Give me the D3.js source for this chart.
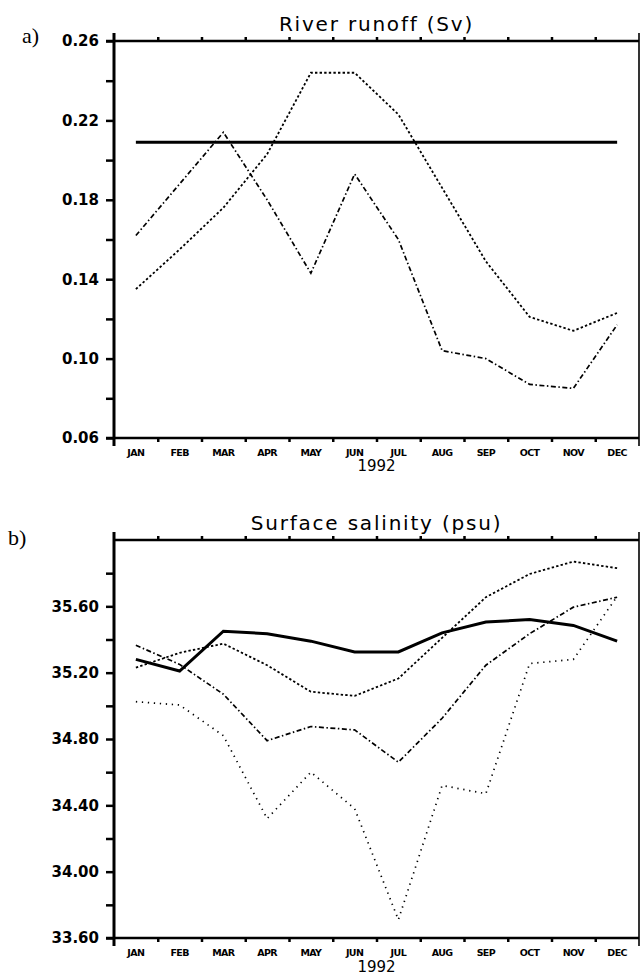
<!DOCTYPE html>
<html>
<head>
<meta charset="utf-8">
<script src="https://cdn.jsdelivr.net/npm/d3@7"></script>
<style>
  body { margin: 0; background: #fff; }
  svg { display: block; }
  .ylab { font-family: "DejaVu Sans", sans-serif; font-weight: bold; font-size: 15px; }
  .mlab { font-family: "DejaVu Sans", sans-serif; font-weight: bold; font-size: 9.5px; letter-spacing: -0.6px; }
  .title { font-family: "DejaVu Sans", sans-serif; font-size: 20px; letter-spacing: 1.8px; }
  .year { font-family: "DejaVu Sans", sans-serif; font-size: 15px; }
  .plab { font-family: "Liberation Serif", "Times New Roman", serif; font-size: 22px; }
</style>
</head>
<body>
<svg width="640" height="975"></svg>
<script>
// month names along the x axis
var months = ['JAN','FEB','MAR','APR','MAY','JUN','JUL','AUG','SEP','OCT','NOV','DEC'];
var yearLabel = '1992';

// panel a) river runoff (Sv)
var runoffSolid   = [0.209, 0.209, 0.209, 0.209, 0.209, 0.209, 0.209, 0.209, 0.209, 0.209, 0.209, 0.209];
var runoffDashed  = [0.135, 0.155, 0.176, 0.203, 0.244, 0.244, 0.223, 0.186, 0.149, 0.121, 0.114, 0.123];
var runoffDashDot = [0.162, 0.188, 0.214, 0.180, 0.143, 0.193, 0.160, 0.104, 0.100, 0.087, 0.085, 0.117];
var runoffTicks   = [0.06, 0.10, 0.14, 0.18, 0.22, 0.26];
var runoffMinor   = [0.08, 0.12, 0.16, 0.20, 0.24];

// panel b) surface salinity (psu)
var salSolid   = [35.28, 35.21, 35.45, 35.435, 35.39, 35.325, 35.325, 35.44, 35.505, 35.52, 35.485, 35.39];
var salDashed  = [35.23, 35.32, 35.375, 35.245, 35.085, 35.06, 35.165, 35.41, 35.655, 35.795, 35.87, 35.83];
var salDashDot = [35.365, 35.25, 35.07, 34.79, 34.875, 34.855, 34.66, 34.925, 35.245, 35.435, 35.595, 35.655];
var salDotted  = [35.025, 35.005, 34.82, 34.32, 34.60, 34.38, 33.71, 34.52, 34.47, 35.255, 35.28, 35.66];
var salTicks   = [33.6, 34.0, 34.4, 34.8, 35.2, 35.6];
var salMinor   = [33.8, 34.2, 34.6, 35.0, 35.4, 35.8];

var svg = d3.select('svg');

// line styles : solid thick, short dashes, dash-dot, sparse dots
var styles = {
  solid:   { w: 3,   dash: null },
  dashed:  { w: 1.8, dash: '2.4,2.2' },
  dashdot: { w: 1.7, dash: '5,2.5,1.5,2.5' },
  dotted:  { w: 1.7, dash: '1.3,4.7' }
};

function panel ( opt )
{
  var left = 114, right = 639, top = opt.top, bottom = opt.bottom;

  // month index scale: 0..12 covers the box, month i is centered at i+0.5
  var xi = d3.scaleLinear().domain([0, 12]).range([left, right]);
  var y  = d3.scaleLinear().domain(opt.domain).range([bottom, top]);

  var g = svg.append('g');

  // left axis, major labelled ticks
  var yAxis = d3.axisLeft(y)
      .tickValues(opt.ticks)
      .tickSize(8)
      .tickPadding(7)
      .tickFormat(opt.fmt);
  var ya = g.append('g').attr('transform', `translate(${left},0)`).call(yAxis);
  ya.select('.domain').remove();
  ya.selectAll('line').attr('stroke-width', 2.5);
  ya.selectAll('text').attr('class', 'ylab').attr('fill', '#000').attr('font-family', null).attr('font-size', null);

  // left axis, minor ticks
  var ym = g.append('g').attr('transform', `translate(${left},0)`)
      .call(d3.axisLeft(y).tickValues(opt.minor).tickSize(8).tickFormat(''));
  ym.select('.domain').remove();
  ym.selectAll('line').attr('stroke-width', 2.5);

  // month boundary ticks, bottom (out) and top (out)
  var bounds = d3.range(1, 12);
  var xb = g.append('g').attr('transform', `translate(0,${bottom})`)
      .call(d3.axisBottom(xi).tickValues(bounds).tickSize(4).tickFormat(''));
  xb.select('.domain').remove();
  xb.selectAll('line').attr('stroke-width', 2.5);
  var xt = g.append('g').attr('transform', `translate(0,${top})`)
      .call(d3.axisTop(xi).tickValues(bounds).tickSize(4).tickFormat(''));
  xt.select('.domain').remove();
  xt.selectAll('line').attr('stroke-width', 2.5);

  // frame
  g.append('line').attr('x1', left).attr('x2', left).attr('y1', top - 8).attr('y2', bottom + 8)
      .attr('stroke', '#000').attr('stroke-width', 3);
  g.append('line').attr('x1', left - (opt.topTick ? 8 : 0)).attr('x2', right).attr('y1', top).attr('y2', top)
      .attr('stroke', '#000').attr('stroke-width', 2.7);
  g.append('line').attr('x1', left - 8).attr('x2', right).attr('y1', bottom).attr('y2', bottom)
      .attr('stroke', '#000').attr('stroke-width', 2.7);
  g.append('line').attr('x1', right).attr('x2', right).attr('y1', top - 8).attr('y2', bottom + 8)
      .attr('stroke', '#000').attr('stroke-width', 1.6);

  // month labels
  g.selectAll('.mlab').data(months).enter().append('text')
      .attr('class', 'mlab')
      .attr('x', function (d, i) { return xi(i + 0.5); })
      .attr('y', bottom + 18)
      .attr('text-anchor', 'middle')
      .text(function (d) { return d; });

  g.append('text').attr('class', 'year')
      .attr('x', (left + right) / 2).attr('y', bottom + opt.yearDy)
      .attr('text-anchor', 'middle').text(yearLabel);

  g.append('text').attr('class', 'title')
      .attr('x', (left + right) / 2).attr('y', top + opt.titleDy)
      .attr('text-anchor', 'middle').text(opt.title);

  g.append('text').attr('class', 'plab')
      .attr('x', opt.labX).attr('y', opt.labY).text(opt.label);

  var line = d3.line()
      .x(function (d, i) { return xi(i + 0.5); })
      .y(function (d) { return y(d); });

  opt.series.forEach(function (s) {
    var st = styles[s.style];
    g.append('path')
      .attr('d', line(s.values))
      .attr('fill', 'none')
      .attr('stroke', '#000')
      .attr('stroke-width', st.w)
      .attr('stroke-linejoin', 'miter')
      .attr('stroke-dasharray', st.dash);
  });
}

panel({
  top: 41, bottom: 438,
  domain: [0.06, 0.26],
  ticks: runoffTicks, minor: runoffMinor, topTick: true,
  fmt: d3.format('.2f'),
  title: 'River runoff (Sv)', titleDy: -10,
  yearDy: 33,
  label: 'a)', labX: 22, labY: 43,
  series: [
    { values: runoffSolid,   style: 'solid' },
    { values: runoffDashed,  style: 'dashed' },
    { values: runoffDashDot, style: 'dashdot' }
  ]
});

panel({
  top: 540, bottom: 938,
  domain: [33.6, 36.0],
  ticks: salTicks, minor: salMinor, topTick: false,
  fmt: d3.format('.2f'),
  title: 'Surface salinity (psu)', titleDy: -10,
  yearDy: 34,
  label: 'b)', labX: 8, labY: 545,
  series: [
    { values: salSolid,   style: 'solid' },
    { values: salDashed,  style: 'dashed' },
    { values: salDashDot, style: 'dashdot' },
    { values: salDotted,  style: 'dotted' }
  ]
});
</script>
</body>
</html>
